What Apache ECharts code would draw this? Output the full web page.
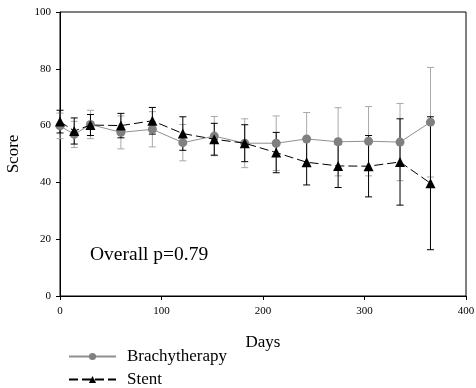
<!DOCTYPE html>
<html>
<head>
<meta charset="utf-8">
<script src="https://cdn.jsdelivr.net/npm/echarts@6/dist/echarts.min.js"></script>
<style>
html,body{margin:0;padding:0;background:#fff;}
#c{width:476px;height:388px;}
</style>
</head>
<body>
<div id="c"></div>
<script>
const days = [0, 14, 30, 60, 91, 121, 152, 182, 213, 243, 274, 304, 335, 365];
const brachyMean = [59.9, 56.9, 60.4, 57.6, 58.7, 54.0, 56.3, 53.8, 53.8, 55.3, 54.3, 54.5, 54.2, 61.2];
const brachyErr = [4.5, 4.6, 5.0, 5.8, 6.2, 6.4, 6.9, 8.6, 9.6, 9.3, 12.0, 12.2, 13.6, 19.3];
const stentMean = [61.4, 58.1, 60.2, 60.0, 61.7, 57.2, 55.2, 53.8, 50.5, 47.1, 45.8, 45.7, 47.2, 39.7];
const stentErr = [4.0, 4.6, 3.7, 4.3, 4.7, 5.9, 5.6, 6.5, 7.1, 8.0, 7.6, 10.8, 15.2, 23.4];
const seriesNames = ['Brachytherapy', 'Stent'];
const xTicks = [0, 100, 200, 300, 400];
const yTicks = [0, 20, 40, 60, 80, 100];
const annotation = 'Overall p=0.79';

const FONT = '"Liberation Serif", "DejaVu Serif", serif';

function errBars(mean, err, color) {
  return {
    type: 'custom',
    silent: true,
    z: 1,
    data: days.map((d, i) => [d, mean[i], err[i]]),
    encode: { x: 0, y: 1 },
    renderItem: function (params, api) {
      const x = api.value(0), y = api.value(1), e = api.value(2);
      const t = api.coord([x, y + e]);
      const b = api.coord([x, y - e]);
      const w = 3.5;
      const st = { stroke: color, lineWidth: 1 };
      return {
        type: 'group',
        children: [
          { type: 'line', shape: { x1: t[0], y1: t[1], x2: b[0], y2: b[1] }, style: st },
          { type: 'line', shape: { x1: t[0] - w, y1: t[1], x2: t[0] + w, y2: t[1] }, style: st },
          { type: 'line', shape: { x1: b[0] - w, y1: b[1], x2: b[0] + w, y2: b[1] }, style: st }
        ]
      };
    }
  };
}

function legendFor(name, top) {
  return {
    data: [name],
    orient: 'vertical',
    left: 68, top: top, padding: 0,
    itemWidth: 47, itemHeight: 9,
    textStyle: { fontFamily: FONT, fontSize: 17, color: '#000', padding: [0, 0, 0, 6] }
  };
}

const chart = echarts.init(document.getElementById('c'), null, { renderer: 'canvas' });
chart.setOption({
  animation: false,
  backgroundColor: '#fff',
  textStyle: { fontFamily: FONT },
  grid: { left: 60, right: 10, top: 12, bottom: 92, show: true, borderColor: '#000', borderWidth: 1,
          containLabel: false, outerBoundsMode: 'none' },
  xAxis: {
    type: 'value', min: xTicks[0], max: xTicks[xTicks.length - 1], interval: 100,
    name: 'Days', nameLocation: 'middle', nameGap: 38,
    nameTextStyle: { fontFamily: FONT, fontSize: 17, color: '#000' },
    axisLine: { lineStyle: { color: '#000', width: 1 } },
    axisTick: { show: true, length: 4, lineStyle: { color: '#000' } },
    axisLabel: { fontFamily: FONT, fontSize: 11, color: '#000', margin: 10 },
    splitLine: { show: false }
  },
  yAxis: {
    type: 'value', min: yTicks[0], max: yTicks[yTicks.length - 1], interval: 20,
    name: 'Score', nameLocation: 'middle', nameGap: 38,
    nameTextStyle: { fontFamily: FONT, fontSize: 17, color: '#000' },
    axisLine: { show: true, lineStyle: { color: '#000', width: 1 } },
    axisTick: { show: true, length: 4, lineStyle: { color: '#000' } },
    axisLabel: { fontFamily: FONT, fontSize: 11, color: '#000', margin: 9 },
    splitLine: { show: false }
  },
  legend: [legendFor(seriesNames[0], 348), legendFor(seriesNames[1], 371)],
  graphic: [{
    type: 'text', left: 90, top: 245,
    style: { text: annotation, font: '19.5px ' + FONT, fill: '#000' }
  }],
  series: [
    errBars(brachyMean, brachyErr, '#a8a8a8'),
    errBars(stentMean, stentErr, '#000'),
    {
      name: seriesNames[0], type: 'line', z: 3,
      data: days.map((d, i) => [d, brachyMean[i]]),
      symbol: 'circle', symbolSize: 9,
      itemStyle: { color: '#808080' },
      lineStyle: { color: '#909090', width: 1 }
    },
    {
      name: seriesNames[1], type: 'line', z: 4,
      data: days.map((d, i) => [d, stentMean[i]]),
      symbol: 'triangle', symbolSize: 10,
      itemStyle: { color: '#000' },
      lineStyle: { color: '#000', width: 1, type: [9, 4] }
    }
  ]
});
</script>
</body>
</html>
